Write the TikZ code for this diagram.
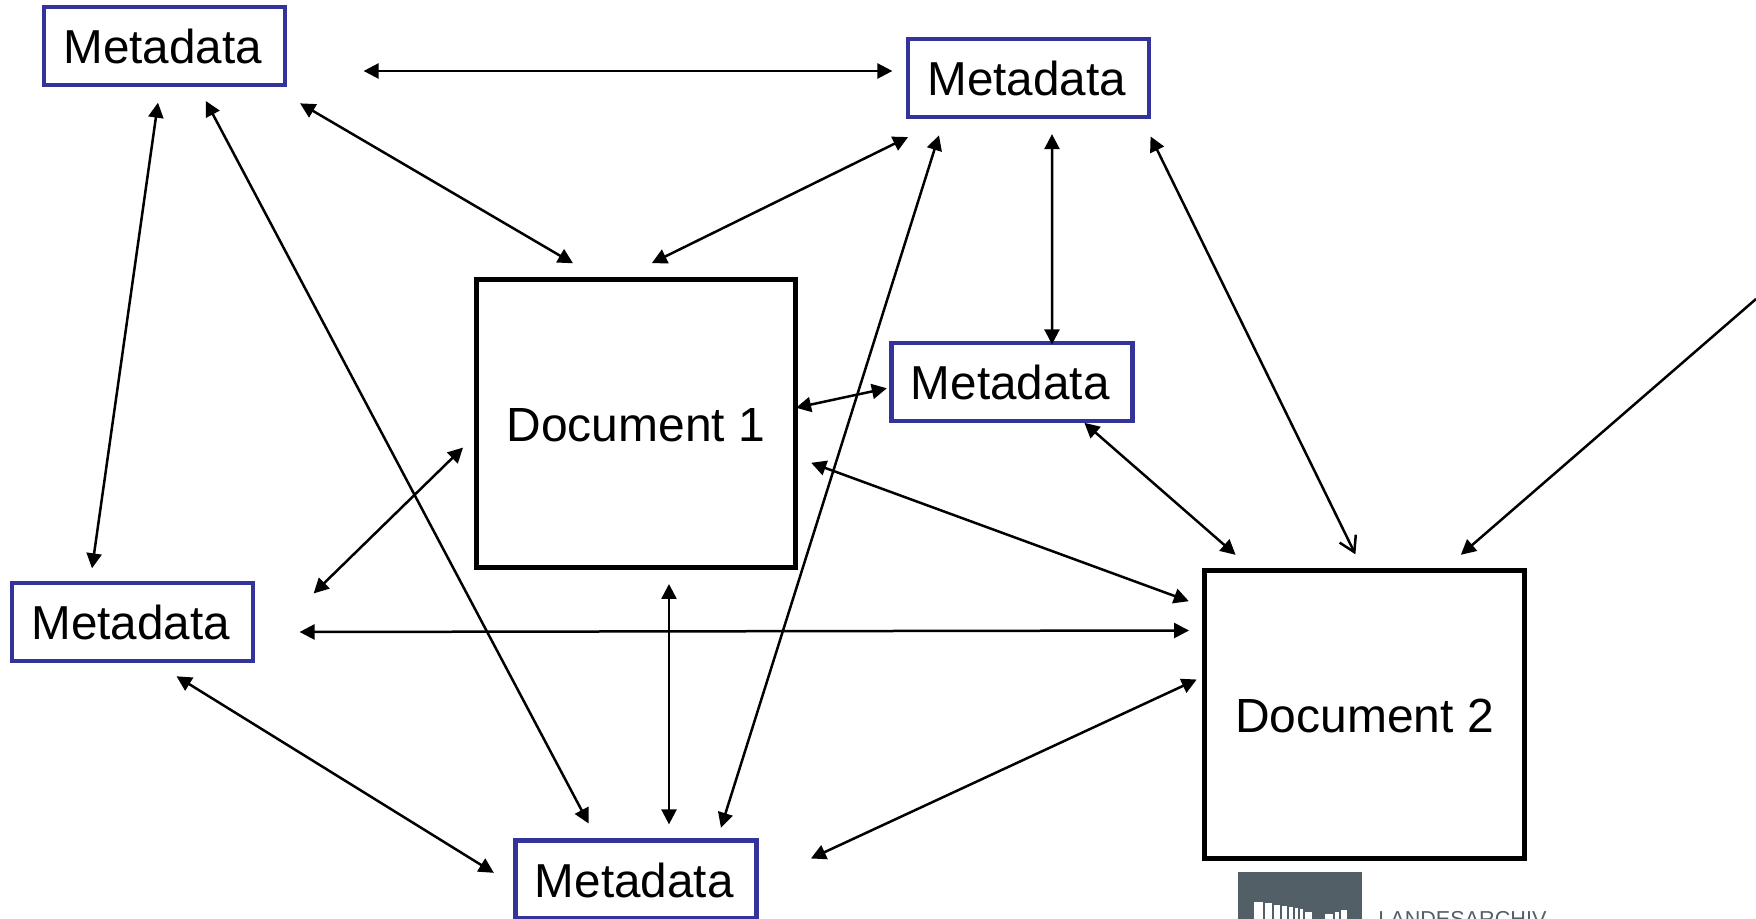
\documentclass[tikz,border=0pt]{standalone}
\usepackage{fontspec}
\setmainfont{Liberation Sans}
\usetikzlibrary{arrows.meta,positioning}
\definecolor{metablue}{HTML}{333399}
\definecolor{logogray}{HTML}{525F66}

\begin{document}
\begin{tikzpicture}[
  x=0.02cm, y=-0.02cm,
  font=\fontsize{27.3}{32}\selectfont,
  meta/.style={rectangle, draw=metablue, line width=0.085cm, fill=white, inner sep=0pt, minimum width=4.82cm, minimum height=1.56cm, text height=20pt, text depth=0pt, font=\fontsize{27.1}{32}\selectfont, execute at end node=\kern0.07cm},
  docbox/.style={rectangle, draw=black, line width=0.1cm, fill=white, inner sep=0pt, minimum width=6.4cm, minimum height=5.78cm, text height=20.5pt, text depth=0pt},
  arr/.style={{Triangle[length=0.3cm,width=0.3cm]}-{Triangle[length=0.3cm,width=0.3cm]}, line width=0.05cm, shorten >=-0.07cm, shorten <=-0.07cm},
  openarr/.style={{Triangle[length=0.3cm,width=0.3cm]}-{Straight Barb[length=0.3cm,width=0.36cm]}, line width=0.05cm, shorten >=-0.04cm, shorten <=-0.07cm},
  endarr/.style={-{Triangle[length=0.3cm,width=0.3cm]}, line width=0.05cm, shorten >=-0.07cm}
]
\useasboundingbox (0,0) rectangle (1756,919);

% Documents
\node[docbox] (doca) at (636,423.5) {Document 1};
\node[docbox] (docb) at (1364.5,714.5) {Document 2};

% Metadata boxes
\node[meta] (metaa) at (164.5,46) {Metadata};
\node[meta] (metab) at (1028.5,78) {Metadata};
\node[meta] (metac) at (1012,382) {Metadata};
\node[meta] (metad) at (132.5,622) {Metadata};
\node[meta] (metae) at (636,879.5) {Metadata};

% Logo
\node[rectangle, fill=logogray, inner sep=0pt, minimum width=2.48cm, minimum height=0.94cm] (logo) at (1300,895.5) {};
\foreach \bx/\bw/\btop in {1254/9/902,1265/7/903,1274/6/905,1282/5/906,1289/4/907,1295/3/908,1300/3/909,1305/7/912,1325/8/914,1335/4/912,1341/6/910}
  \fill[white] (\bx,\btop) rectangle ++(\bw,20);
\node[anchor=north west, inner sep=0pt, text=logogray, font=\fontsize{12.3}{14}\selectfont] (logotext) at (1378,911) {LANDESARCHIV};

% Connections
\coordinate (freeend) at (1756,299);
\draw[arr] ([shift={(80,25)}]metaa.east) -- ([shift={(-17,-7)}]metab.west);
\draw[arr] ([shift={(16,18)}]metaa.south east) -- ([shift={(-66,-15)}]doca.north);
\draw[arr] ([shift={(-1,19.5)}]metab.south west) -- ([shift={(19,-15)}]doca.north);
\draw[arr] ([shift={(-7,19)}]metaa.south) -- ([shift={(-40,-16)}]metad.north);
\draw[arr] ([shift={(43,17)}]metaa.south) -- ([shift={(-49,-18)}]metae.north);
\draw[arr] ([shift={(32,19.5)}]metab.south west) -- ([shift={(86,-14)}]metae.north);
\draw[arr] ([shift={(23.5,18.5)}]metab.south) -- ([shift={(40,0)}]metac.north);
\draw[openarr] ([shift={(1,20.5)}]metab.south east) -- ([shift={(-10,-15)}]docb.north);
\draw[arr] ([shift={(-6,7)}]metac.west) -- ([shift={(1,-16.5)}]doca.east);
\draw[arr] ([shift={(75,2)}]metac.south) -- ([shift={(-131.5,-15)}]docb.north);
\draw[arr] ([shift={(16,40.5)}]doca.east) -- ([shift={(-16.5,-114.5)}]docb.west);
\draw[arr] ([shift={(-13,26.5)}]doca.west) -- ([shift={(61,-31)}]metad.east);
\draw[arr] ([shift={(48,10)}]metad.east) -- ([shift={(-16.5,-84)}]docb.west);
\draw[arr] ([shift={(33,17)}]doca.south) -- ([shift={(33,-17.5)}]metae.north);
\draw[arr] ([shift={(47,15)}]metad.south) -- ([shift={(-22.5,-8.5)}]metae.west);
\draw[arr] ([shift={(55.5,-22.5)}]metae.east) -- ([shift={(-8.5,-33.5)}]docb.west);
\draw[endarr] (freeend) -- ([shift={(99,-15)}]docb.north);

\end{tikzpicture}
\end{document}
